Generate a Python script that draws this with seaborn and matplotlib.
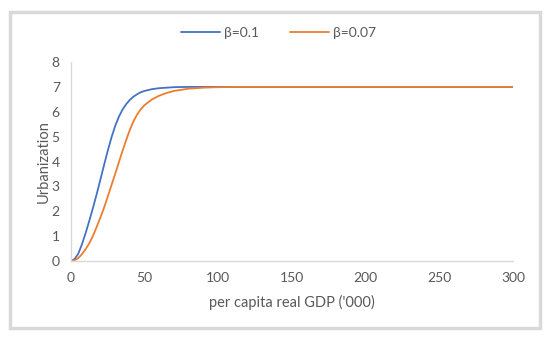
import pandas as pd
import seaborn as sns
import matplotlib.pyplot as plt
from matplotlib.patches import Rectangle

# per capita real GDP ('000) and urbanization
gdp = [0, 2.5, 5, 7.5, 10, 12.5, 15, 17.5, 20, 22.5, 25, 27.5, 30, 32.5, 35, 37.5,
       40, 42.5, 45, 47.5, 50, 55, 60, 65, 70, 80, 90, 100, 110, 150, 200, 250, 300]
urb_b010 = [0, 0.08, 0.30, 0.68, 1.13, 1.63, 2.15, 2.70, 3.28, 3.87, 4.44, 4.97, 5.43, 5.80, 6.09, 6.31,
            6.48, 6.61, 6.71, 6.79, 6.84, 6.91, 6.95, 6.97, 6.99, 7.0, 7.0, 7.0, 7.0, 7.0, 7.0, 7.0, 7.0]
urb_b007 = [0, 0.03, 0.12, 0.28, 0.48, 0.72, 1.02, 1.38, 1.75, 2.15, 2.60, 3.05, 3.50, 3.97, 4.43, 4.87,
            5.28, 5.63, 5.90, 6.11, 6.27, 6.50, 6.65, 6.76, 6.84, 6.93, 6.97, 6.99, 7.0, 7.0, 7.0, 7.0, 7.0]
labels = ['β=0.1', 'β=0.07']
colors = ['#4472C4', '#ED7D31']

df = pd.concat([
    pd.DataFrame({'gdp': gdp, 'urb': urb_b010, 'beta': labels[0]}),
    pd.DataFrame({'gdp': gdp, 'urb': urb_b007, 'beta': labels[1]}),
])

sns.set_style('white')
plt.rcParams['font.family'] = ['Lato', 'DejaVu Sans']
grey = '#595959'

fig = plt.figure(figsize=(5.5, 3.39), dpi=100)
ax = fig.add_axes([0.129, 0.230, 0.804, 0.587])

sns.lineplot(data=df, x='gdp', y='urb', hue='beta', palette=colors, linewidth=1.3, ax=ax)

ax.set_xlim(0, 300)
ax.set_ylim(0, 8)
ax.set_xticks([0, 50, 100, 150, 200, 250, 300])
ax.set_yticks(range(0, 9))
ax.tick_params(length=0, pad=8, labelsize=10, labelcolor=grey)
ax.set_xlabel("per capita real GDP ('000)", fontsize=10.5, color=grey, labelpad=8)
ax.set_ylabel('Urbanization', fontsize=10.5, color=grey, labelpad=1)
for side in ['top', 'right']:
    ax.spines[side].set_visible(False)
for side in ['left', 'bottom']:
    ax.spines[side].set_color('#d9d9d9')
    ax.spines[side].set_linewidth(1)

ax.legend_.remove()
handles, _ = ax.get_legend_handles_labels()
fig.legend(handles[:2], labels, loc='center', bbox_to_anchor=(0.506, 0.902), ncol=2,
           frameon=False, fontsize=10, labelcolor=grey, handlelength=2.8,
           handletextpad=0.3, columnspacing=2.2)

fig.patches.append(Rectangle((0.018, 0.032), 0.964, 0.933, transform=fig.transFigure,
                             fill=False, edgecolor='#d9d9d9', linewidth=2.5))

fig.savefig('out.png', dpi=100, facecolor='white')
